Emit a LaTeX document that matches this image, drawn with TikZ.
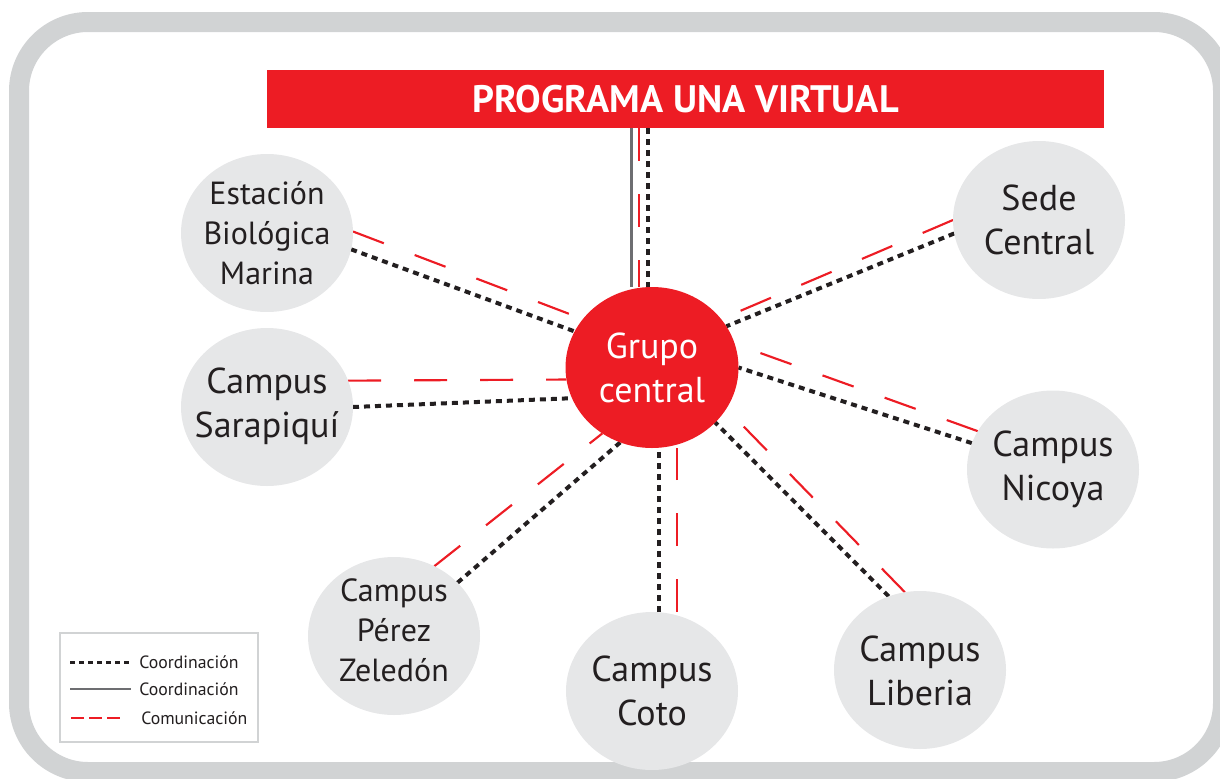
\documentclass[tikz,border=0pt]{standalone}
\usepackage{fontspec}
\setmainfont{PT Sans}
\usetikzlibrary{shapes.geometric,calc}
\definecolor{unared}{HTML}{ED1C24}
\definecolor{circgray}{HTML}{E6E7E8}
\definecolor{framegray}{HTML}{D1D3D4}
\definecolor{linegray}{HTML}{6D6E71}
\definecolor{txt}{HTML}{231F20}
\pgfdeclarelayer{bg}
\pgfsetlayers{bg,main}
\begin{document}
\begin{tikzpicture}[x=0.75pt,y=-0.75pt,
  site/.style={ellipse,fill=circgray,minimum width=129pt,minimum height=118.5pt,inner sep=0pt,outer sep=0pt},
  hub/.style={ellipse,fill=unared,minimum width=129.75pt,minimum height=120.75pt,inner sep=0pt,outer sep=0pt},
  bigtxt/.style={align=center,text=txt,inner sep=0pt,font=\fontsize{27}{33}\selectfont},
  smalltxt/.style={align=center,text=txt,inner sep=0pt,font=\fontsize{24}{30}\selectfont},
  coordline/.style={line width=3pt,txt,dash pattern=on 4.5pt off 3.75pt},
  commline/.style={line width=1.6pt,unared,dash pattern=on 24.75pt off 24.75pt},
  solidline/.style={line width=2.25pt,linegray},
  legtxt/.style={anchor=west,text=txt,inner sep=0pt,font=\fontsize{13.3}{15}\selectfont}
]
\useasboundingbox (0,0) rectangle (1220,778);
% frame
\draw[framegray,line width=15pt,rounded corners=51.75pt] (19,22) rectangle (1223,772);
% title bar
\node[fill=unared,minimum width=627.75pt,minimum height=43.5pt,inner sep=0pt,text=white,
      font=\bfseries\fontsize{28.7}{32}\selectfont] (bar) at (685.5,99) {PROGRAMA UNA VIRTUAL};
% nodes
\node[hub] (G) at (652,367.5) {};
\node[align=center,text=white,inner sep=0pt,font=\fontsize{27}{33}\selectfont] (Gt) at (652,367.5) {Grupo\\central};
\node[site] (E) at (267,233) {};
\node[smalltxt] (Et) at (267,233) {Estación\\Biológica\\Marina};
\node[site] (S) at (267,407) {};
\node[bigtxt] (St) at (267,406) {Campus\\Sarapiquí};
\node[site] (P) at (394,636) {};
\node[smalltxt] (Pt) at (394,630) {Campus\\Pérez\\Zeledón};
\node[site] (C) at (652,691) {};
\node[bigtxt] (Ct) at (652,691) {Campus\\Coto};
\node[site] (L) at (920,670) {};
\node[bigtxt] (Lt) at (920,671) {Campus\\Liberia};
\node[site] (N) at (1053,469.5) {};
\node[bigtxt] (Nt) at (1053,469) {Campus\\Nicoya};
\node[site] (D) at (1039,220) {};
\node[bigtxt] (Dt) at (1039,220) {Sede\\Central};
% connectors
\coordinate (tg) at ([xshift=-15.75pt]G.north);
\coordinate (tr) at ([xshift=-9.75pt]G.north);
\coordinate (tk) at ([xshift=-3pt]G.north);
\begin{pgfonlayer}{bg}
\draw[solidline] (tg |- bar.south) -- (tg);
\draw[commline] (tr |- bar.south) -- (tr);
\draw[coordline] (tk |- bar.south) -- (tk);
\draw[commline] (E.1) -- (G.145);
\draw[coordline] (E.-11) -- (G.155.5);
\draw[commline] (S.18) -- (G.188);
\draw[coordline] (S.0) -- (G.201);
\draw[commline] (P.60) -- (G.233);
\draw[coordline] (P.40.7) -- (G.247.6);
\draw[commline] ([xshift=18.75pt]C.north) -- ([xshift=18.75pt]G.south);
\draw[coordline] ([xshift=5.25pt]C.north) -- ([xshift=5.25pt]G.south);
\draw[commline] (L.101) -- (G.-29.5);
\draw[coordline] (L.113.7) -- (G.-41.5);
\draw[commline] (N.153.7) -- (G.16);
\draw[coordline] (N.162.3) -- (G.-0.3);
\draw[commline] (D.180) -- (G.35);
\draw[coordline] (D.189) -- (G.29);
\end{pgfonlayer}
% legend
\node[draw=framegray,line width=1.5pt,fill=white,minimum width=148.5pt,minimum height=81.75pt,inner sep=0pt] (leg) at (159,687.5) {};
\coordinate (l1a) at (70,662); \coordinate (l1b) at (130,662);
\coordinate (l2a) at (70,689); \coordinate (l2b) at (131,689);
\coordinate (l3a) at (71,718); \coordinate (l3b) at (123,718);
\draw[line width=2.25pt,txt,dash pattern=on 3.75pt off 3pt] (l1a) -- (l1b);
\draw[line width=1.75pt,linegray] (l2a) -- (l2b);
\draw[line width=0.9pt,unared,dash pattern=on 9.6pt off 4pt] (l3a) -- (l3b);
\node[legtxt] (lt1) at (139,662) {Coordinación};
\node[legtxt] (lt2) at (139,689) {Coordinación};
\node[legtxt] (lt3) at (141,718) {Comunicación};
\end{tikzpicture}
\end{document}
